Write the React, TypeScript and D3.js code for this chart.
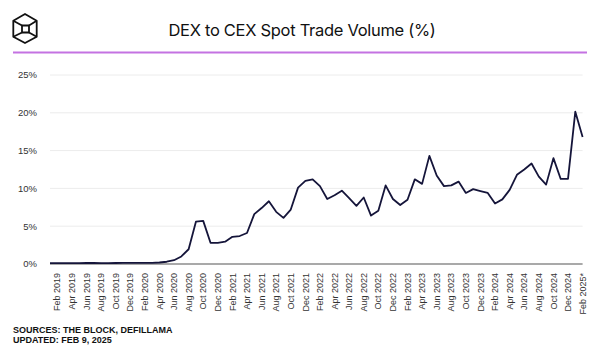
import React from "react";
import * as d3 from "d3";

// monthly DEX / CEX spot volume ratio, Jan 2019 .. Feb 2025 (percent)
const vol2019 = [0.12, 0.12, 0.12, 0.12, 0.12, 0.13, 0.13, 0.12, 0.12, 0.13, 0.14, 0.14];
const vol2020 = [0.15, 0.16, 0.16, 0.2, 0.3, 0.5, 1.0, 1.95, 5.6, 5.7, 2.8, 2.8];
const vol2021 = [2.95, 3.6, 3.7, 4.1, 6.6, 7.4, 8.3, 6.9, 6.1, 7.2, 10.1, 11.0];
const vol2022 = [11.2, 10.3, 8.6, 9.1, 9.7, 8.7, 7.7, 8.8, 6.4, 7.05, 10.4, 8.6];
const vol2023 = [7.8, 8.5, 11.2, 10.6, 14.3, 11.7, 10.3, 10.4, 10.9, 9.4, 9.9, 9.65];
const vol2024 = [9.4, 8.0, 8.55, 9.8, 11.8, 12.5, 13.3, 11.55, 10.5, 14.0, 11.25, 11.25];
const vol2025 = [20.15, 16.8];

const tickLabels = [
  "Feb 2019", "Apr 2019", "Jun 2019", "Aug 2019", "Oct 2019", "Dec 2019",
  "Feb 2020", "Apr 2020", "Jun 2020", "Aug 2020", "Oct 2020", "Dec 2020",
  "Feb 2021", "Apr 2021", "Jun 2021", "Aug 2021", "Oct 2021", "Dec 2021",
  "Feb 2022", "Apr 2022", "Jun 2022", "Aug 2022", "Oct 2022", "Dec 2022",
  "Feb 2023", "Apr 2023", "Jun 2023", "Aug 2023", "Oct 2023", "Dec 2023",
  "Feb 2024", "Apr 2024", "Jun 2024", "Aug 2024", "Oct 2024", "Dec 2024",
  "Feb 2025*",
];

const yTicks = [0, 5, 10, 15, 20, 25];

const values = [...vol2019, ...vol2020, ...vol2021, ...vol2022, ...vol2023, ...vol2024, ...vol2025];
const fmt = d3.utcFormat("%b %Y");
const months = d3.utcMonth.range(new Date(Date.UTC(2019, 0, 1)), new Date(Date.UTC(2025, 2, 1))).map(fmt);
const data = months.map((m, i) => ({ month: m, value: values[i] }));

export default function App() {
  const width = 600;
  const height = 350;
  const left = 50;
  const right = 582.6;
  const top = 75;
  const bottom = 264;

  const x = d3.scalePoint<string>().domain(months).range([left, right]);
  const y = d3.scaleLinear().domain([0, 25]).range([bottom, top]);

  const line = d3
    .line<{ month: string; value: number }>()
    .x((d) => x(d.month) as number)
    .y((d) => y(d.value));

  const axisFont = "'Liberation Sans', Arial, sans-serif";

  return (
    <svg
      width={width}
      height={height}
      style={{ position: "absolute", left: 0, top: 0, background: "#fff" }}
    >
      {/* logo */}
      <g fill="none" stroke="#111" strokeWidth={1.8} strokeLinejoin="round">
        <path d="M25,14 L36.7,20.7 L36.7,36.7 L25,43 L13.3,36.7 L13.3,20.7 Z" />
        <rect x={22} y={25.5} width={7} height={7} />
        <path d="M13.3,20.7 L22,25.5 M36.7,20.7 L29,25.5 M13.3,36.7 L22,32.5 M36.7,36.7 L29,32.5" />
      </g>

      <text
        x={302}
        y={36}
        textAnchor="middle"
        fontFamily="Inter, 'Noto Sans', sans-serif"
        fontSize={16.5}
        letterSpacing={-0.3}
        fill="#111"
      >
        DEX to CEX Spot Trade Volume (%)
      </text>
      <line x1={13} x2={587} y1={52.5} y2={52.5} stroke="#c472e2" strokeWidth={2} />

      {/* grid */}
      {yTicks.map((t) => (
        <g key={t}>
          {t > 0 && (
            <line x1={left} x2={right} y1={y(t)} y2={y(t)} stroke="#ececec" strokeWidth={1} />
          )}
          <text
            x={37}
            y={y(t)}
            dy="0.35em"
            textAnchor="end"
            fontFamily={axisFont}
            fontSize={9.5}
            fill="#333"
          >
            {t}%
          </text>
        </g>
      ))}

      <line x1={left} x2={right} y1={bottom} y2={bottom} stroke="#555" strokeWidth={1.2} />

      {tickLabels.map((lab) => {
        const key = lab.replace("*", "");
        const px = x(key) as number;
        return (
          <text
            key={lab}
            transform={`translate(${px},${273}) rotate(-90)`}
            dy="0.35em"
            textAnchor="end"
            fontFamily={axisFont}
            fontSize={9}
            fill="#333"
          >
            {lab}
          </text>
        );
      })}

      <path d={line(data) ?? ""} fill="none" stroke="#15153a" strokeWidth={1.8} strokeLinejoin="round" />

      <text x={13} y={332.5} fontFamily={axisFont} fontWeight="bold" fontSize={9} fill="#111">
        SOURCES: THE BLOCK, DEFILLAMA
      </text>
      <text x={13} y={342.5} fontFamily={axisFont} fontWeight="bold" fontSize={9} fill="#111">
        UPDATED: FEB 9, 2025
      </text>
    </svg>
  );
}
